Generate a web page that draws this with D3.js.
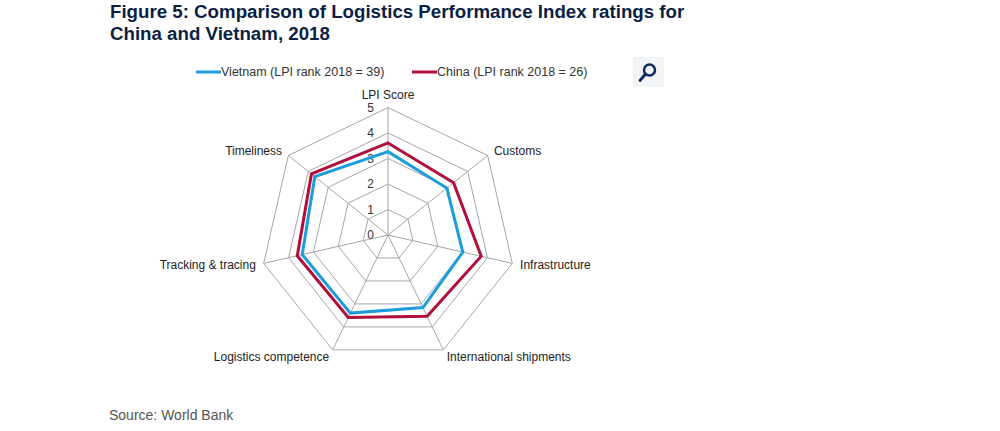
<!DOCTYPE html>
<html>
<head>
<meta charset="utf-8">
<script src="https://cdn.jsdelivr.net/npm/d3@7"></script>
<style>
  body { margin: 0; background: #fff; }
  svg { display: block; font-family: "Liberation Sans", Arial, sans-serif; }
</style>
</head>
<body>
<div id="chart"></div>
<script>
//width and height of the whole picture
var width = 1000,
  height = 431;

//axes of the radar, clockwise from the top
var categories = [
  "LPI Score",
  "Customs",
  "Infrastructure",
  "International shipments",
  "Logistics competence",
  "Tracking & tracing",
  "Timeliness"
];

//LPI 2018 scores for each axis
var vietnamValues = [3.27, 2.95, 3.01, 3.16, 3.40, 3.45, 3.67];
var chinaValues = [3.61, 3.29, 3.75, 3.54, 3.59, 3.65, 3.84];

var seriesNames = ["Vietnam (LPI rank 2018 = 39)", "China (LPI rank 2018 = 26)"];
var seriesColors = ["#1b9ddb", "#b0103a"];

//radial tick labels
var tickValues = [0, 1, 2, 3, 4, 5];

var cx = 388,
  cy = 235,
  outerRadius = 127.5;

var svg = d3
  .select("#chart")
  .append("svg")
  .attr("width", width)
  .attr("height", height);

//title, two lines
var title = svg
  .append("text")
  .attr("x", 110)
  .attr("y", 18)
  .attr("fill", "#0b1f45")
  .style("font-size", "18.7px")
  .style("font-weight", "bold");
title.append("tspan").attr("x", 110).text("Figure 5: Comparison of Logistics Performance Index ratings for");
title.append("tspan").attr("x", 110).attr("dy", 21.8).text("China and Vietnam, 2018");

//radial scale and angle of each axis
var r = d3.scaleLinear().domain([0, 5]).range([0, outerRadius]);
var angle = d3
  .scalePoint()
  .domain(categories)
  .range([0, 2 * Math.PI * (categories.length - 1) / categories.length]);

function point(cat, value) {
  var a = angle(cat);
  return [cx + r(value) * Math.sin(a), cy - r(value) * Math.cos(a)];
}

var chart = svg.append("g");

//grid rings (polygons)
tickValues.slice(1).forEach(function(t) {
  chart
    .append("polygon")
    .attr("points", categories.map(function(c) { return point(c, t).join(","); }).join(" "))
    .attr("fill", "none")
    .attr("stroke", "#a6a6a6")
    .attr("stroke-width", 1);
});

//spokes
chart
  .selectAll(".spoke")
  .data(categories)
  .enter()
  .append("line")
  .attr("class", "spoke")
  .attr("x1", cx)
  .attr("y1", cy)
  .attr("x2", function(c) { return point(c, 5)[0]; })
  .attr("y2", function(c) { return point(c, 5)[1]; })
  .attr("stroke", "#a6a6a6")
  .attr("stroke-width", 1);

//tick labels along the top axis
chart
  .selectAll(".tick-label")
  .data(tickValues)
  .enter()
  .append("text")
  .attr("class", "tick-label")
  .attr("x", cx - 14)
  .attr("y", function(t) { return cy - r(t); })
  .attr("dy", "0.35em")
  .attr("text-anchor", "end")
  .attr("fill", "#333")
  .style("font-size", "12px")
  .text(function(t) { return t; });

//axis labels outside the outer ring
chart
  .selectAll(".axis-label")
  .data(categories)
  .enter()
  .append("text")
  .attr("class", "axis-label")
  .attr("x", function(c) {
    var a = angle(c);
    return cx + (outerRadius + 8) * Math.sin(a);
  })
  .attr("y", function(c) {
    var a = angle(c);
    if (a === 0) return cy - outerRadius - 13;
    return cy - (outerRadius + 8) * Math.cos(a);
  })
  .attr("dy", "0.35em")
  .attr("text-anchor", function(c) {
    var s = Math.sin(angle(c));
    return s > 0.1 ? "start" : s < -0.1 ? "end" : "middle";
  })
  .attr("fill", "#222")
  .style("font-size", "12px")
  .text(function(c) { return c; });

//series polygons
var line = d3.line().curve(d3.curveLinearClosed);
[vietnamValues, chinaValues].forEach(function(values, i) {
  chart
    .append("path")
    .attr("d", line(categories.map(function(c, j) { return point(c, values[j]); })))
    .attr("fill", "none")
    .attr("stroke", seriesColors[i])
    .attr("stroke-width", 3)
    .attr("stroke-linejoin", "miter");
});

//legend
var legendX = [196, 412];
var legend = svg
  .selectAll(".legend")
  .data(seriesNames)
  .enter()
  .append("g")
  .attr("class", "legend")
  .attr("transform", function(d, i) { return "translate(" + legendX[i] + ",72)"; });
legend
  .append("line")
  .attr("x1", 0)
  .attr("x2", 25)
  .attr("stroke", function(d, i) { return seriesColors[i]; })
  .attr("stroke-width", 3);
legend
  .append("text")
  .attr("x", 25)
  .attr("dy", "0.35em")
  .attr("fill", "#333")
  .style("font-size", "12.5px")
  .text(function(d) { return d; });

//magnifier button
var btn = svg.append("g").attr("transform", "translate(633,57)");
btn.append("rect").attr("width", 31).attr("height", 30).attr("fill", "#f1f3f6");
btn
  .append("circle")
  .attr("cx", 16.5)
  .attr("cy", 13)
  .attr("r", 5.5)
  .attr("fill", "none")
  .attr("stroke", "#0d2a5c")
  .attr("stroke-width", 2.5);
btn
  .append("line")
  .attr("x1", 12.5)
  .attr("y1", 17)
  .attr("x2", 7)
  .attr("y2", 23.5)
  .attr("stroke", "#0d2a5c")
  .attr("stroke-width", 2.8)
  .attr("stroke-linecap", "round");

//source
svg
  .append("text")
  .attr("x", 109)
  .attr("y", 420)
  .attr("fill", "#555")
  .style("font-size", "14px")
  .text("Source: World Bank");
</script>
</body>
</html>
